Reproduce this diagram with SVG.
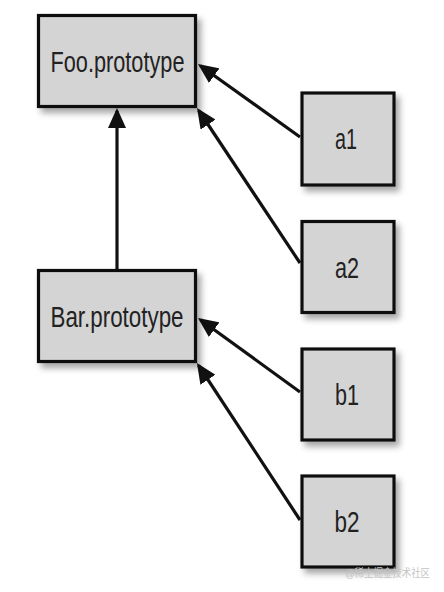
<svg xmlns="http://www.w3.org/2000/svg" width="444" height="592" viewBox="0 0 444 592">
<defs>
<style>
.box{fill:#d4d4d4;stroke:#111;stroke-width:3.2;filter:url(#sh)}
.lbl{font-family:"Liberation Sans",Arial,sans-serif;font-size:30px;fill:#222;text-anchor:middle}
.edge{stroke:#111;stroke-width:3.2;fill:none;marker-end:url(#ah)}
.wm{font-family:"Liberation Sans","Noto Sans CJK SC",sans-serif;font-size:11px;fill:#c4c4c4}
</style>
<filter id="sh" x="-20%" y="-20%" width="150%" height="150%">
<feDropShadow dx="4" dy="5" stdDeviation="3" flood-color="#000" flood-opacity="0.35"/>
</filter>
<marker id="ah" viewBox="0 0 20 18" refX="17" refY="9" markerWidth="20" markerHeight="18" markerUnits="userSpaceOnUse" orient="auto">
<path d="M0,0 L20,9 L0,18 z" fill="#111"/>
</marker>
</defs>
<rect width="444" height="592" fill="#fff"/>
<g id="connectors">
<line class="edge" x1="300" y1="137" x2="200.4" y2="65.7"/>
<line class="edge" x1="300" y1="263" x2="198.7" y2="110.5"/>
<line class="edge" x1="117" y1="269" x2="117" y2="111"/>
<line class="edge" x1="300" y1="392" x2="200.4" y2="319.7"/>
<line class="edge" x1="300" y1="520" x2="198.6" y2="365.5"/>
</g>
<g id="foo">
<rect class="box" x="38.5" y="15.5" width="157" height="91"/>
<text class="lbl" x="117.5" y="71.5" textLength="134" lengthAdjust="spacingAndGlyphs">Foo.prototype</text>
</g>
<g id="bar">
<rect class="box" x="38.5" y="270.5" width="157" height="91"/>
<text class="lbl" x="117" y="326.5" textLength="133" lengthAdjust="spacingAndGlyphs">Bar.prototype</text>
</g>
<g id="a1">
<rect class="box" x="302" y="93" width="92" height="92"/>
<text class="lbl" x="346" y="149" textLength="22" lengthAdjust="spacingAndGlyphs">a1</text>
</g>
<g id="a2">
<rect class="box" x="302" y="221.5" width="92" height="91"/>
<text class="lbl" x="347" y="277.5" textLength="24" lengthAdjust="spacingAndGlyphs">a2</text>
</g>
<g id="b1">
<rect class="box" x="302" y="349" width="92" height="91"/>
<text class="lbl" x="347" y="404.5" textLength="24" lengthAdjust="spacingAndGlyphs">b1</text>
</g>
<g id="b2">
<rect class="box" x="302" y="476" width="92" height="91"/>
<text class="lbl" x="347" y="531.5" textLength="25" lengthAdjust="spacingAndGlyphs">b2</text>
</g>
<text class="wm" x="345" y="577" textLength="85" lengthAdjust="spacingAndGlyphs">@稀土掘金技术社区</text>
</svg>
